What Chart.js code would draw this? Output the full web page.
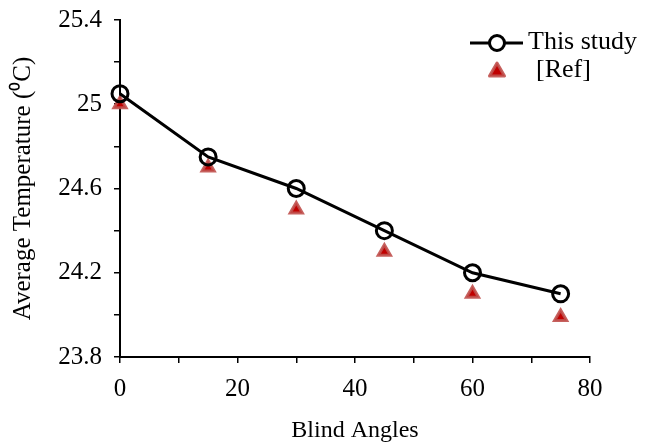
<!DOCTYPE html>
<html>
<head>
<meta charset="utf-8">
<script src="https://cdn.jsdelivr.net/npm/chart.js@4"></script>
<style>
  html, body { margin: 0; padding: 0; background: #fff; }
  #wrap { width: 660px; height: 447px; }
</style>
</head>
<body>
<div id="wrap"><canvas id="chart" width="660" height="447"></canvas></div>
<script>
const angles = [0, 15, 30, 45, 60, 75];
const thisStudy = [25.05, 24.75, 24.6, 24.4, 24.2, 24.1];
const refValues = [25.0, 24.7, 24.5, 24.3, 24.1, 23.99];

const FONT = "'Liberation Serif', 'Times New Roman', serif";

// simple legend drawn in the top right, line + circle like the original
const legendPlugin = {
  id: 'cornerLegend',
  afterDraw(chart) {
    const ctx = chart.ctx;
    ctx.save();
    ctx.strokeStyle = '#000';
    ctx.lineWidth = 3;
    ctx.beginPath();
    ctx.moveTo(470, 43);
    ctx.lineTo(523, 43);
    ctx.stroke();
    ctx.fillStyle = '#fff';
    ctx.beginPath();
    ctx.arc(497, 43, 7.5, 0, Math.PI * 2);
    ctx.fill();
    ctx.stroke();

    // triangle
    ctx.beginPath();
    ctx.moveTo(497, 63);
    ctx.lineTo(504.5, 76);
    ctx.lineTo(489.5, 76);
    ctx.closePath();
    ctx.fillStyle = '#c00000';
    ctx.strokeStyle = 'rgba(192,80,77,0.9)';
    ctx.lineWidth = 3;
    ctx.lineJoin = 'round';
    ctx.fill();
    ctx.stroke();

    ctx.fillStyle = '#000';
    ctx.font = '26px ' + FONT;
    ctx.textBaseline = 'middle';
    ctx.fillText('This study', 528, 42);
    ctx.fillText('[Ref]', 536, 70);
    ctx.restore();
  }
};

new Chart(document.getElementById('chart').getContext('2d'), {
  type: 'scatter',
  data: {
    datasets: [{
      label: 'This study',
      data: angles.map((a, i) => ({ x: a, y: thisStudy[i] })),
      showLine: true,
      borderColor: '#000',
      borderWidth: 3,
      backgroundColor: 'rgba(255,255,255,0)',
      pointBorderColor: '#000',
      pointBorderWidth: 3,
      pointRadius: 8,
      pointStyle: 'circle',
      tension: 0,
      clip: false
    }, {
      label: '[Ref]',
      data: angles.map((a, i) => ({ x: a, y: refValues[i] })),
      showLine: false,
      pointStyle: 'triangle',
      pointRadius: 7,
      pointBackgroundColor: '#c00000',
      pointBorderColor: 'rgba(192,80,77,0.9)',
      pointBorderWidth: 3,
      clip: false
    }]
  },
  options: {
    responsive: false,
    animation: false,
    layout: { padding: { top: 20, right: 70, left: 0, bottom: 0 } },
    plugins: {
      legend: { display: false },
      tooltip: { enabled: false }
    },
    scales: {
      x: {
        type: 'linear',
        min: 0,
        max: 80,
        afterFit: s => { s.height = 90; },
        border: { color: '#000', width: 2 },
        grid: { drawOnChartArea: false, color: '#000', tickLength: 6, lineWidth: 1.5 },
        ticks: {
          stepSize: 10,
          color: '#000',
          padding: 11,
          maxRotation: 0,
          autoSkip: false,
          font: { family: FONT, size: 25 },
          callback: v => (v % 20 === 0 ? String(v) : '')
        },
        title: {
          display: true,
          text: 'Blind Angles',
          color: '#000',
          font: { family: FONT, size: 24 },
          padding: { top: 4, bottom: 2 }
        }
      },
      y: {
        min: 23.8,
        max: 25.4,
        afterFit: s => { s.width = 120; s.paddingTop = 0; },
        border: { color: '#000', width: 2 },
        grid: { drawOnChartArea: false, color: '#000', tickLength: 6, lineWidth: 1.5 },
        ticks: {
          stepSize: 0.2,
          color: '#000',
          padding: 12,
          autoSkip: false,
          font: { family: FONT, size: 25 },
          callback: v => {
            const t = Math.round(v * 10);
            return t % 4 === 2 ? String(parseFloat(v.toFixed(1))) : '';
          }
        },
        title: {
          display: true,
          text: 'Average Temperature (\u2070C)',
          color: '#000',
          font: { family: FONT, size: 25 },
          padding: { top: 8, bottom: 0 }
        }
      }
    }
  },
  plugins: [legendPlugin]
});
</script>
</body>
</html>
